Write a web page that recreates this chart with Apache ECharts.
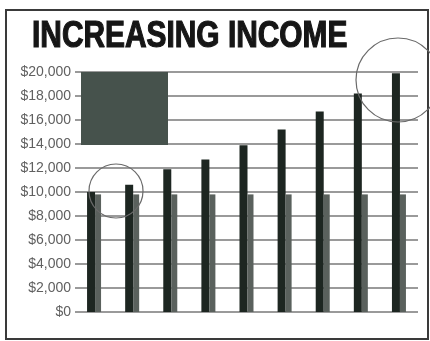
<!DOCTYPE html>
<html>
<head>
<meta charset="utf-8">
<script src="https://cdn.jsdelivr.net/npm/echarts@6/dist/echarts.min.js"></script>
<style>
  html, body { margin: 0; padding: 0; background: #ffffff; }
  #chart { width: 430px; height: 341px; }
</style>
</head>
<body>
<div id="chart"></div>
<script>
// Nine periods: rising income against a flat reference level
const periods = ['1', '2', '3', '4', '5', '6', '7', '8', '9'];
const income = [10000, 10600, 11900, 12700, 13900, 15200, 16700, 18200, 19900];
const flatIncome = [9800, 9800, 9800, 9800, 9800, 9800, 9800, 9800, 9800];
const yTicks = [0, 2000, 4000, 6000, 8000, 10000, 12000, 14000, 16000, 18000, 20000];

const fmtDollar = v => '$' + v.toLocaleString('en-US');

const chart = echarts.init(document.getElementById('chart'), null, { renderer: 'canvas' });

chart.setOption({
  animation: false,
  backgroundColor: '#ffffff',
  grid: { left: 75, right: 12, top: 72, bottom: 29 },
  xAxis: {
    type: 'category',
    data: periods,
    axisLine: { show: false },
    axisTick: { show: false },
    axisLabel: { show: false }
  },
  yAxis: {
    type: 'value',
    min: yTicks[0],
    max: yTicks[yTicks.length - 1],
    interval: 2000,
    axisLine: { show: false },
    axisTick: { show: false },
    axisLabel: {
      formatter: fmtDollar,
      color: '#606060',
      fontFamily: '"Liberation Sans", Arial, sans-serif',
      fontSize: 14,
      margin: 4
    },
    splitLine: { lineStyle: { color: '#9a9a9a', width: 2 } }
  },
  series: [
    {
      name: 'Income',
      type: 'bar',
      data: income,
      barWidth: 8,
      barGap: '0%',
      itemStyle: { color: '#1d2621' },
      z: 3
    },
    {
      name: 'Flat',
      type: 'bar',
      data: flatIncome,
      barWidth: 6,
      itemStyle: { color: '#5a615d' },
      z: 3
    }
  ],
  graphic: [
    // outer frame
    {
      type: 'rect',
      shape: { x: 6, y: 10, width: 422, height: 329 },
      style: { fill: null, stroke: '#3a3a3a', lineWidth: 2 },
      z: 10
    },
    // title, squeezed horizontally to a condensed look
    {
      type: 'text',
      x: 32,
      y: 37,
      scaleX: 0.83,
      style: {
        text: 'INCREASING INCOME',
        fill: '#161616',
        stroke: '#161616',
        lineWidth: 1.2,
        font: 'bold 36px "Liberation Sans", Arial, sans-serif',
        verticalAlign: 'middle'
      },
      z: 10
    },
    // dark key block
    {
      type: 'rect',
      shape: { x: 81, y: 72, width: 87, height: 73 },
      style: { fill: '#46524c' },
      z: 10
    },
    // highlight rings
    {
      type: 'circle',
      shape: { cx: 116, cy: 191, r: 27 },
      style: { fill: null, stroke: '#6a6a6a', lineWidth: 1.2 },
      z: 10
    },
    {
      type: 'circle',
      shape: { cx: 398, cy: 80, r: 42 },
      style: { fill: null, stroke: '#6a6a6a', lineWidth: 1.2 },
      z: 10
    }
  ]
});
</script>
</body>
</html>
